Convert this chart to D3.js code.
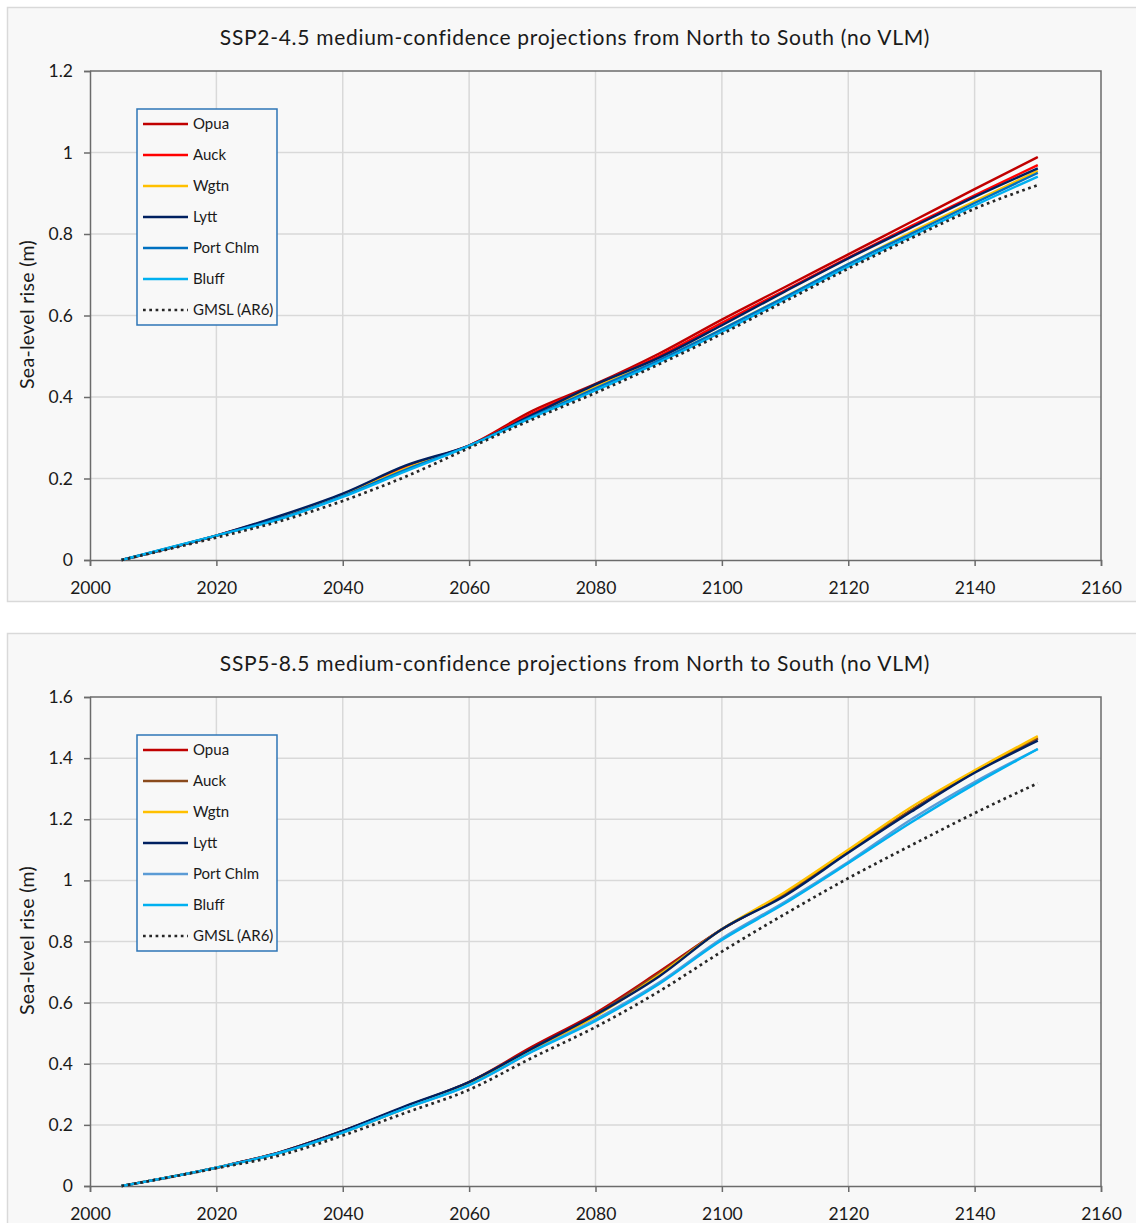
<!DOCTYPE html>
<html><head><meta charset="utf-8">
<script src="https://cdn.jsdelivr.net/npm/d3@7/dist/d3.min.js"></script>
<style>
html,body{margin:0;padding:0;background:#fff;}
svg{display:block;}
text{font-family:Lato,"Open Sans",sans-serif;fill:#1a1a1a;}
</style></head><body>
<svg id="chart" width="1136" height="1223"></svg>
<script>
const years = [2005, 2020, 2030, 2040, 2050, 2060, 2070, 2080, 2090, 2100, 2110, 2120, 2130, 2140, 2150];
const seriesNames = ["Opua", "Auck", "Wgtn", "Lytt", "Port Chlm", "Bluff", "GMSL (AR6)"];
const xTicks = [2000, 2020, 2040, 2060, 2080, 2100, 2120, 2140, 2160];

// SSP2-4.5
const ssp245Opua   = [0, 0.060, 0.106, 0.161, 0.230, 0.281, 0.366, 0.432, 0.506, 0.590, 0.670, 0.750, 0.830, 0.910, 0.989];
const ssp245Auck   = [0, 0.060, 0.105, 0.160, 0.229, 0.281, 0.360, 0.430, 0.500, 0.582, 0.662, 0.742, 0.820, 0.895, 0.969];
const ssp245Wgtn   = [0, 0.060, 0.103, 0.158, 0.225, 0.280, 0.355, 0.425, 0.490, 0.566, 0.646, 0.726, 0.805, 0.880, 0.955];
const ssp245Lytt   = [0, 0.060, 0.108, 0.163, 0.232, 0.281, 0.356, 0.431, 0.496, 0.576, 0.659, 0.740, 0.816, 0.891, 0.961];
const ssp245Port   = [0, 0.060, 0.102, 0.157, 0.222, 0.280, 0.352, 0.421, 0.490, 0.566, 0.645, 0.726, 0.801, 0.876, 0.950];
const ssp245Bluff  = [0, 0.060, 0.100, 0.155, 0.218, 0.280, 0.350, 0.416, 0.485, 0.560, 0.640, 0.720, 0.795, 0.870, 0.941];
const ssp245Gmsl   = [0, 0.055, 0.095, 0.145, 0.205, 0.275, 0.345, 0.410, 0.480, 0.555, 0.635, 0.715, 0.790, 0.862, 0.920];

// SSP5-8.5
const ssp585Opua   = [0, 0.060, 0.110, 0.180, 0.260, 0.340, 0.456, 0.566, 0.700, 0.840, 0.955, 1.095, 1.230, 1.355, 1.465];
const ssp585Auck   = [0, 0.060, 0.110, 0.180, 0.260, 0.340, 0.450, 0.560, 0.695, 0.840, 0.955, 1.095, 1.230, 1.355, 1.465];
const ssp585Wgtn   = [0, 0.060, 0.108, 0.175, 0.255, 0.335, 0.445, 0.555, 0.690, 0.840, 0.962, 1.100, 1.240, 1.360, 1.472];
const ssp585Lytt   = [0, 0.060, 0.110, 0.180, 0.262, 0.340, 0.450, 0.560, 0.685, 0.840, 0.950, 1.090, 1.225, 1.352, 1.457];
const ssp585Port   = [0, 0.060, 0.108, 0.175, 0.255, 0.330, 0.440, 0.545, 0.665, 0.810, 0.930, 1.060, 1.200, 1.322, 1.430];
const ssp585Bluff  = [0, 0.060, 0.108, 0.175, 0.255, 0.330, 0.440, 0.540, 0.660, 0.805, 0.925, 1.056, 1.190, 1.315, 1.430];
const ssp585Gmsl   = [0, 0.058, 0.100, 0.165, 0.240, 0.315, 0.420, 0.520, 0.636, 0.767, 0.890, 1.007, 1.115, 1.220, 1.318];

const yTicks245 = [0, 0.2, 0.4, 0.6, 0.8, 1, 1.2];
const yTicks585 = [0, 0.2, 0.4, 0.6, 0.8, 1, 1.2, 1.4, 1.6];

const colors245 = ["#c00000", "#ff0000", "#ffc000", "#002060", "#0070c0", "#00b0f0", "#262626"];
const colors585 = ["#c00000", "#8a4a1c", "#ffc000", "#002060", "#5b9bd5", "#00b0f0", "#262626"];

const svg = d3.select("#chart");

function drawPanel(cfg) {
  const g = svg.append("g");
  g.append("rect").attr("x", 7.5).attr("y", cfg.top + 0.5).attr("width", 1140).attr("height", cfg.panelH)
    .attr("fill", "#f8f8f8").attr("stroke", "#d9d9d9").attr("stroke-width", 1.5);

  const x = d3.scaleLinear().domain([2000, 2160]).range([90, 1101]);
  const y = d3.scaleLinear().domain([0, cfg.yMax]).range([cfg.plotBottom, cfg.plotTop]);

  g.append("text").attr("x", 575).attr("y", cfg.top + 38).attr("text-anchor", "middle")
    .attr("font-size", 21).attr("letter-spacing", 0.7).text(cfg.title);

  g.append("g").selectAll("line").data(xTicks.slice(1, -1)).join("line")
    .attr("x1", d => x(d)).attr("x2", d => x(d)).attr("y1", cfg.plotTop).attr("y2", cfg.plotBottom)
    .attr("stroke", "#d9d9d9").attr("stroke-width", 1.5);
  g.append("g").selectAll("line").data(cfg.yTicks.slice(1, -1)).join("line")
    .attr("x1", 90).attr("x2", 1101).attr("y1", d => y(d)).attr("y2", d => y(d))
    .attr("stroke", "#d9d9d9").attr("stroke-width", 1.5);

  const xAxis = d3.axisBottom(x).tickValues(xTicks).tickSize(6).tickPadding(15).tickFormat(d3.format("d"));
  const yAxis = d3.axisLeft(y).tickValues(cfg.yTicks).tickSize(6).tickPadding(11).tickFormat(d => String(+d.toFixed(1)));
  const ax = g.append("g").attr("transform", `translate(0,${cfg.plotBottom})`).call(xAxis);
  const ay = g.append("g").attr("transform", `translate(90,0)`).call(yAxis);
  [ax, ay].forEach(a => {
    a.select(".domain").attr("stroke", "#6b6b6b").attr("stroke-width", 1.5);
    a.selectAll(".tick line").attr("stroke", "#6b6b6b").attr("stroke-width", 1.5);
    a.selectAll(".tick text").attr("font-family", "Lato").attr("font-size", 17.5).attr("fill", "#1a1a1a");
  });
  ax.selectAll(".tick text").attr("dy", "0.75em");
  g.append("path").attr("d", `M90,${cfg.plotTop}H1101V${cfg.plotBottom}`)
    .attr("fill", "none").attr("stroke", "#6b6b6b").attr("stroke-width", 1.5);

  g.append("text").attr("transform", `translate(34,${(cfg.plotTop + cfg.plotBottom) / 2 - 1}) rotate(-90)`)
    .attr("text-anchor", "middle").attr("font-size", 19.5).attr("letter-spacing", 0.3).text("Sea-level rise (m)");

  const line = d3.line().x((d, i) => x(years[i])).y(d => y(d)).curve(d3.curveMonotoneX);
  const lg = g.append("g");
  cfg.series.forEach((s, i) => {
    lg.append("path").datum(s).attr("d", line).attr("fill", "none")
      .attr("stroke", cfg.colors[i]).attr("stroke-width", i === 6 ? 2.7 : 2.4)
      .attr("stroke-dasharray", i === 6 ? "2.7,3.6" : null);
  });

  const lx = 137, ly = cfg.legendTop;
  g.append("rect").attr("x", lx).attr("y", ly).attr("width", 140).attr("height", 216)
    .attr("fill", "#f8f8f8").attr("stroke", "#2e75b6").attr("stroke-width", 1.5);
  seriesNames.forEach((n, i) => {
    const yy = ly + 15 + i * 31;
    g.append("line").attr("x1", lx + 6).attr("x2", lx + 51).attr("y1", yy).attr("y2", yy)
      .attr("stroke", cfg.colors[i]).attr("stroke-width", 2.4)
      .attr("stroke-dasharray", i === 6 ? "2.7,3.6" : null);
    g.append("text").attr("x", lx + 56).attr("y", yy).attr("dy", "0.35em").attr("font-size", 15).text(n);
  });
}

drawPanel({
  top: 7, panelH: 594, plotTop: 71, plotBottom: 560, yMax: 1.2, yTicks: yTicks245,
  title: "SSP2-4.5 medium-confidence projections from North to South (no VLM)",
  series: [ssp245Opua, ssp245Auck, ssp245Wgtn, ssp245Lytt, ssp245Port, ssp245Bluff, ssp245Gmsl],
  colors: colors245, legendTop: 109
});
drawPanel({
  top: 633, panelH: 620, plotTop: 697, plotBottom: 1186, yMax: 1.6, yTicks: yTicks585,
  title: "SSP5-8.5 medium-confidence projections from North to South (no VLM)",
  series: [ssp585Opua, ssp585Auck, ssp585Wgtn, ssp585Lytt, ssp585Port, ssp585Bluff, ssp585Gmsl],
  colors: colors585, legendTop: 735
});
</script>
</body></html>
